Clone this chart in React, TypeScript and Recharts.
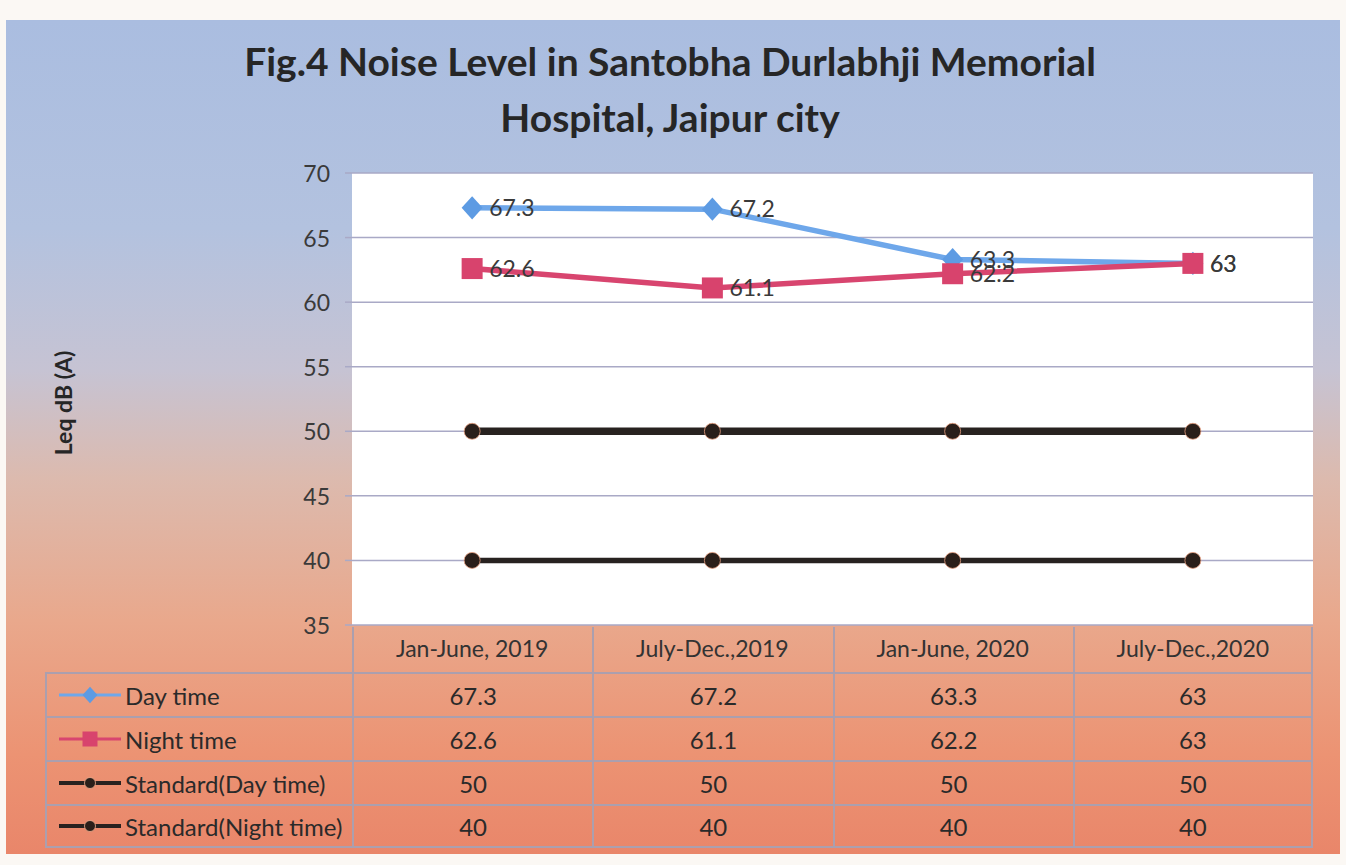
import React from "react";
import { ComposedChart, Line, XAxis, YAxis, CartesianGrid, LabelList } from "recharts";

const categories = ["Jan-June, 2019", "July-Dec.,2019", "Jan-June, 2020", "July-Dec.,2020"];
const dayTime = [67.3, 67.2, 63.3, 63];
const nightTime = [62.6, 61.1, 62.2, 63];
const standardDay = [50, 50, 50, 50];
const standardNight = [40, 40, 40, 40];
const yTicks = [35, 40, 45, 50, 55, 60, 65, 70];
const seriesNames = ["Day time", "Night time", "Standard(Day time)", "Standard(Night time)"];
const seriesValues = [dayTime, nightTime, standardDay, standardNight];
const seriesKeys = ["day", "night", "stdDay", "stdNight"];
const seriesColors = ["#6ea7ea", "#d8456f", "#282220", "#282220"];
const markerColors = ["#5d9be3", "#d8436d", "#2a1f1a", "#2a1f1a"];
const lineWidths = [5.5, 5.5, 7.5, 5.5];
const markerTypes = ["diamond", "square", "circle", "circle"];

const data = categories.map((c, i) => ({
  cat: c,
  day: dayTime[i],
  night: nightTime[i],
  stdDay: standardDay[i],
  stdNight: standardNight[i],
}));

const FONT = "Lato, 'Open Sans', sans-serif";
const W = 1346;
const H = 865;
const PLOT_LEFT = 352;
const PLOT_RIGHT = 1313;
const PLOT_TOP = 173;
const PLOT_BOTTOM = 625;
const GRID = "#a9a9c6";
const TABLE_BORDER = "#ab9fae";
const FS = 23;

function markerPath(type: string, cx: number, cy: number, s: number) {
  if (type === "diamond") {
    return `M${cx},${cy - s * 1.1} L${cx + s},${cy} L${cx},${cy + s * 1.1} L${cx - s},${cy} Z`;
  }
  if (type === "square") {
    return `M${cx - s},${cy - s} L${cx + s},${cy - s} L${cx + s},${cy + s} L${cx - s},${cy + s} Z`;
  }
  return "";
}

function makeDot(idx: number) {
  return (props: any) => {
    const { cx, cy, key } = props;
    if (cx == null || cy == null) return <g key={key} />;
    const t = markerTypes[idx];
    if (t === "circle") {
      return <circle key={key} cx={cx} cy={cy} r={8} fill={markerColors[idx]} stroke="#e8a080" strokeWidth={0.8} />;
    }
    return <path key={key} d={markerPath(t, cx, cy, 10.5)} fill={markerColors[idx]} />;
  };
}

const XTick = (props: any) => {
  const { x, y, payload } = props;
  return (
    <text x={x} y={y + 21} textAnchor="middle" dominantBaseline="central" fontSize={FS} fill="#333" fontFamily={FONT}>
      {payload.value}
    </text>
  );
};

const YTick = (props: any) => {
  const { x, y, payload } = props;
  return (
    <text x={x} y={y} textAnchor="end" dominantBaseline="central" fontSize={FS} fill="#3a3a3a" fontFamily={FONT}>
      {payload.value}
    </text>
  );
};

function LegendKey({ idx }: { idx: number }) {
  const t = markerTypes[idx];
  return (
    <svg width={66} height={20} style={{ display: "block" }}>
      <line x1={2} y1={10} x2={64} y2={10} stroke={seriesColors[idx]} strokeWidth={idx >= 2 ? 4 : 3} />
      {t === "circle" ? (
        <circle cx={33} cy={10} r={5.5} fill={markerColors[idx]} stroke="#f0b090" strokeWidth={0.8} />
      ) : (
        <path d={markerPath(t, 33, 10, 7.5)} fill={markerColors[idx]} />
      )}
    </svg>
  );
}

export default function App() {
  const colW = (PLOT_RIGHT - PLOT_LEFT) / categories.length;
  const headerTop = PLOT_BOTTOM + 2;
  const rowTop = 672;
  const rowH = 44;
  const legendLeft = 45;
  return (
    <div style={{ position: "absolute", left: 0, top: 0, width: W, height: H, background: "#fbf8f4", overflow: "hidden", fontFamily: FONT }}>
      <div
        style={{
          position: "absolute",
          left: 6,
          top: 20,
          width: 1334,
          height: 834,
          background: "linear-gradient(to bottom, #aabde0 0%, #b3c2df 25%, #c6c3d3 42%, #dcbaae 55%, #e9a88c 72%, #ec9373 88%, #e9866a 100%)",
        }}
      />
      <div
        style={{
          position: "absolute",
          left: 0,
          top: 33,
          width: 1340,
          textAlign: "center",
          fontWeight: 700,
          fontSize: 39,
          lineHeight: "56px",
          color: "#262626",
        }}
      >
        Fig.4 Noise Level in Santobha Durlabhji Memorial
        <br />
        Hospital, Jaipur city
      </div>
      <div
        style={{
          position: "absolute",
          left: 63,
          top: 403,
          transform: "translate(-50%, -50%) rotate(-90deg)",
          fontWeight: 700,
          fontSize: 23,
          color: "#262626",
          whiteSpace: "nowrap",
        }}
      >
        Leq dB (A)
      </div>
      {categories.map((c, i) => (
        <div
          key={"h" + i}
          style={{
            position: "absolute",
            left: PLOT_LEFT + colW * i,
            top: headerTop,
            width: colW,
            height: rowTop - headerTop,
            borderLeft: `2px solid ${TABLE_BORDER}`,
            borderRight: i === categories.length - 1 ? `2px solid ${TABLE_BORDER}` : "none",
            boxSizing: "border-box",
          }}
        />
      ))}
      {seriesNames.map((name, r) => (
        <React.Fragment key={"r" + r}>
          <div
            style={{
              position: "absolute",
              left: legendLeft,
              top: rowTop + r * rowH,
              width: PLOT_LEFT - legendLeft,
              height: rowH,
              borderTop: `2px solid ${TABLE_BORDER}`,
              borderLeft: `2px solid ${TABLE_BORDER}`,
              borderBottom: r === seriesNames.length - 1 ? `2px solid ${TABLE_BORDER}` : "none",
              boxSizing: "border-box",
              display: "flex",
              alignItems: "center",
              paddingLeft: 10,
              fontSize: 24,
              color: "#2a2a2a",
              whiteSpace: "nowrap",
            }}
          >
            <LegendKey idx={r} />
            <span style={{ marginLeft: 2 }}>{name}</span>
          </div>
          {seriesValues[r].map((v, i) => (
            <div
              key={"c" + r + "-" + i}
              style={{
                position: "absolute",
                left: PLOT_LEFT + colW * i,
                top: rowTop + r * rowH,
                width: colW,
                height: rowH,
                borderTop: `2px solid ${TABLE_BORDER}`,
                borderLeft: `2px solid ${TABLE_BORDER}`,
                borderRight: i === categories.length - 1 ? `2px solid ${TABLE_BORDER}` : "none",
                borderBottom: r === seriesNames.length - 1 ? `2px solid ${TABLE_BORDER}` : "none",
                boxSizing: "border-box",
                display: "flex",
                alignItems: "center",
                justifyContent: "center",
                fontSize: 24,
                color: "#2a2a2a",
              }}
            >
              {v}
            </div>
          ))}
        </React.Fragment>
      ))}
      <div style={{ position: "absolute", left: 0, top: 0 }}>
        <ComposedChart
          width={W}
          height={H}
          data={data}
          margin={{ top: PLOT_TOP, right: W - PLOT_RIGHT, bottom: 200, left: PLOT_LEFT - 60 }}
        >
          <CartesianGrid vertical={false} stroke={GRID} strokeWidth={1.5} fill="#ffffff" fillOpacity={1} />
          <XAxis
            dataKey="cat"
            height={40}
            axisLine={false}
            tickLine={false}
            tickSize={0}
            tick={<XTick />}
            interval={0}
            padding={{ left: colW / 2, right: colW / 2 }}
          />
          <YAxis
            width={60}
            domain={[35, 70]}
            ticks={yTicks}
            axisLine={false}
            tickLine={{ stroke: GRID, strokeWidth: 1.5 }}
            tickSize={7}
            tickMargin={15}
            tick={<YTick />}
          />
          {seriesKeys.map((k, idx) => (
            <Line
              key={k}
              dataKey={k}
              name={seriesNames[idx]}
              stroke={seriesColors[idx]}
              strokeWidth={lineWidths[idx]}
              dot={makeDot(idx)}
              activeDot={false}
              isAnimationActive={false}
            >
              {idx < 2 ? (
                <LabelList dataKey={k} position="right" offset={17} fontSize={FS} fill="#3a3a3a" fontFamily={FONT} />
              ) : null}
            </Line>
          ))}
        </ComposedChart>
      </div>
    </div>
  );
}
